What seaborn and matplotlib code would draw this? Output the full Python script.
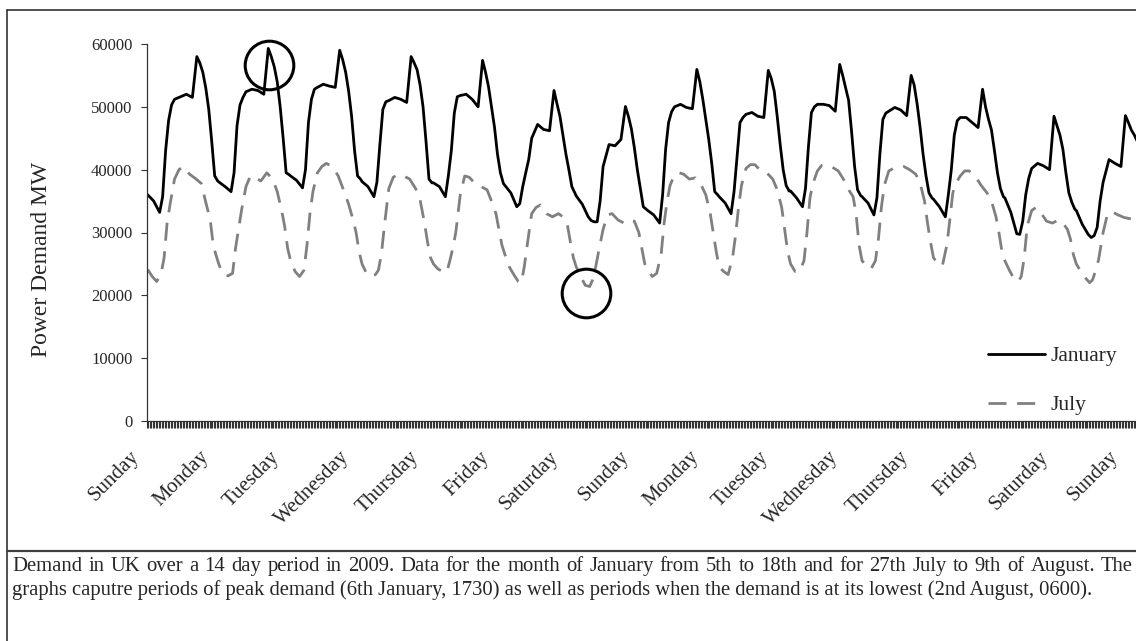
import numpy as np
import pandas as pd
import matplotlib
matplotlib.use("Agg")
import matplotlib.pyplot as plt
import seaborn as sns
from matplotlib.lines import Line2D
from matplotlib import transforms

# ---------------- data ----------------
day_labels = ["Sunday", "Monday", "Tuesday", "Wednesday", "Thursday", "Friday", "Saturday",
              "Sunday", "Monday", "Tuesday", "Wednesday", "Thursday", "Friday", "Saturday", "Sunday"]
slots_per_day = 48          # half-hourly readings
n_slots = 672               # 14 days
label_every = 47            # category label interval on the axis

# January 5th-18th (MW), read at these half-hour slots of each day
jan_slots = [0, 4, 8, 10, 12, 14, 16, 18, 22, 26, 30, 33, 35, 37, 39, 41, 43, 45, 47]
jan_mw = [
    [36000, 35000, 33200, 35700, 43000, 47800, 50300, 51200, 51600, 52000, 51500, 58000, 57000, 55500, 53000, 49600, 44500, 39000, 38200],
    [38000, 37300, 36500, 39500, 47000, 50300, 51500, 52400, 52800, 52600, 52000, 59300, 58000, 56400, 54000, 50000, 45000, 39500, 39200],
    [39000, 38300, 37100, 40000, 47500, 51200, 52800, 53100, 53600, 53300, 53100, 59000, 57500, 55500, 52500, 48500, 43000, 39000, 38500],
    [38100, 37300, 35700, 38000, 44000, 49600, 50800, 51000, 51500, 51200, 50700, 58000, 57000, 55900, 53500, 50000, 44500, 38500, 37900],
    [37900, 37300, 35700, 39000, 43000, 49000, 51600, 51800, 52000, 51200, 50000, 57400, 55500, 53200, 50000, 46800, 42500, 39500, 37800],
    [37500, 36300, 34100, 34600, 37300, 39500, 41600, 45000, 47200, 46400, 46200, 52600, 50500, 48500, 45500, 42500, 40000, 37300, 36300],
    [35800, 34500, 32500, 31900, 31700, 31700, 35000, 40500, 44000, 43800, 44800, 50050, 48500, 46500, 43500, 40000, 37000, 34100, 33700],
    [33500, 32800, 31500, 36000, 43200, 47500, 49200, 50000, 50400, 49900, 49700, 55950, 54000, 51200, 48000, 44800, 41000, 36500, 36000],
    [35700, 34700, 33000, 36500, 42100, 47500, 48300, 48800, 49100, 48500, 48300, 55800, 54500, 52500, 48500, 44000, 40000, 37500, 36600],
    [36600, 35500, 34100, 37000, 43700, 49100, 50000, 50400, 50400, 50200, 49300, 56750, 55000, 53000, 51000, 46000, 40500, 36800, 35900],
    [35700, 34700, 32800, 35500, 42500, 48000, 49000, 49300, 49900, 49500, 48600, 55000, 53500, 50500, 46800, 42500, 39000, 36300, 35500],
    [35300, 34100, 32500, 36000, 40000, 45500, 47800, 48300, 48300, 47500, 46700, 52800, 50000, 48000, 46300, 43000, 39500, 37000, 35700],
    [35500, 33200, 29800, 29700, 31800, 36000, 38600, 40200, 41000, 40600, 40000, 48500, 47000, 45500, 43200, 39500, 36300, 34800, 33700],
    [33500, 31300, 29700, 29200, 29500, 30800, 35000, 38000, 41600, 41000, 40500, 48600, 47500, 46300, 45500, 44500, 42500],
]

# July 27th - August 9th (MW)
jul_slots = [0, 3, 6, 9, 11, 13, 15, 18, 21, 24, 28, 32, 36, 39, 42, 44, 46]
jul_mw = [
    [24100, 23000, 22200, 23500, 26000, 31500, 34500, 38500, 40000, 40500, 39300, 38600, 37800, 34800, 32000, 28000, 26300],
    [24800, 23300, 23100, 23500, 27500, 30500, 33500, 37300, 39000, 38800, 38200, 39500, 38500, 36500, 33500, 31000, 27500],
    [25500, 23800, 23000, 24000, 28000, 33000, 36500, 39500, 40500, 41000, 40500, 39000, 36500, 34500, 32000, 30000, 27000],
    [25000, 23500, 23000, 23300, 24000, 26500, 31000, 37000, 38800, 39200, 39000, 38500, 37000, 35200, 31500, 28500, 26000],
    [25000, 24200, 23800, 23700, 25500, 27500, 30000, 36000, 39000, 38800, 37800, 37300, 36800, 35000, 33000, 30500, 28000],
    [26500, 24500, 23300, 22200, 22000, 24500, 28000, 33000, 34000, 34400, 33000, 32500, 33000, 32500, 31200, 28500, 26000],
    [24500, 23000, 21600, 21400, 22500, 24500, 27000, 30500, 32800, 33000, 32000, 31500, 32000, 31800, 30000, 27500, 25000],
    [24000, 23000, 23500, 26500, 31500, 35000, 37500, 39200, 39500, 39300, 38500, 38700, 37500, 36000, 33000, 30000, 27000],
    [24500, 23800, 23300, 26000, 29500, 34000, 37500, 40200, 40800, 40800, 39800, 39500, 38500, 36800, 34000, 30500, 27000],
    [25000, 23800, 23800, 25500, 30000, 35500, 37800, 39800, 40700, 40700, 40400, 39800, 38300, 36800, 35700, 33000, 28000],
    [25500, 24800, 24200, 25500, 28900, 34000, 37500, 39800, 40200, 40300, 40500, 40000, 39300, 37900, 35000, 31500, 28500],
    [26000, 25000, 24700, 28000, 32000, 36300, 37800, 39000, 39800, 39800, 39000, 37500, 36300, 35000, 32500, 30000, 27000],
    [25500, 24000, 22700, 22200, 23000, 26000, 31000, 33500, 34000, 33200, 31800, 31500, 32000, 31500, 30500, 29000, 26500],
    [25000, 23800, 22800, 22000, 22500, 24000, 25700, 30000, 33000, 33300, 32800, 32400, 32200, 32000, 31800],
]

caption_lines = [
    "Demand in UK over a 14 day period in 2009. Data for the month of January from 5th to 18th and for 27th July to 9th of August. The",
    "graphs caputre periods of peak demand (6th January, 1730) as well as periods when the demand is at its lowest (2nd August, 0600).",
]


def to_frame(slots, rows, name):
    t, v = [], []
    for d, row in enumerate(rows):
        for s, val in zip(slots, row):
            t.append(d * slots_per_day + s)
            v.append(val)
    return pd.DataFrame({"slot": t, "MW": v, "Month": name})


df = pd.concat([to_frame(jan_slots, jan_mw, "January"),
                to_frame(jul_slots, jul_mw, "July")], ignore_index=True)

# ---------------- style ----------------
sns.set_style("ticks")
plt.rcParams["font.family"] = ["Liberation Serif", "DejaVu Serif"]
plt.rcParams["lines.scale_dashes"] = True

W, H = 1136, 641
fig = plt.figure(figsize=(W / 100, H / 100), dpi=100)
ax_left, ax_right, ax_top, ax_bottom = 147, 1147, 44, 421
ax = fig.add_axes([ax_left / W, 1 - ax_bottom / H, (ax_right - ax_left) / W, (ax_bottom - ax_top) / H])

lw = 2.0
jul_dash = (6.5, 3.8)
sns.lineplot(data=df, x="slot", y="MW", hue="Month", style="Month",
             palette={"January": "black", "July": "#808080"},
             dashes={"January": "", "July": jul_dash},
             linewidth=lw, estimator=None, sort=True, legend=False, ax=ax)

ax.set_yticks(np.arange(0, 60001, 10000))
ax.set_yticklabels([str(v) for v in range(0, 60001, 10000)], fontsize=12)
ax.tick_params(axis="y", length=4, width=0.8, color="#333333", pad=6.5)

# day labels at every 47th category
ax.set_xticks(np.arange(0, n_slots, label_every))
ax.set_xticklabels(day_labels, rotation=45, ha="right", rotation_mode="anchor", fontsize=15)
ax.tick_params(axis="x", which="major", length=0, pad=19)
ax.set_xticks(np.arange(n_slots + 1) - 0.5, minor=True)
ax.tick_params(axis="x", which="minor", length=5, width=0.8, color="#333333")
shift = transforms.ScaledTranslation(-18 / 100, 0, fig.dpi_scale_trans)
for lbl in ax.get_xticklabels():
    lbl.set_transform(lbl.get_transform() + shift)

ax.set_xlim(-0.5, n_slots - 0.5)
ax.set_ylim(0, 60000)

ax.set_xlabel("")
ax.set_ylabel("")
for s in ["top", "right"]:
    ax.spines[s].set_visible(False)
for s in ["left", "bottom"]:
    ax.spines[s].set_color("#333333")
    ax.spines[s].set_linewidth(0.9)

# annotation circles around the January peak and the July low
jan_df = df[df.Month == "January"]
jul_df = df[df.Month == "July"]
pk = jan_df.loc[jan_df.MW.idxmax()]
lo = jul_df.loc[jul_df.MW.idxmin()]
ax.plot([pk.slot], [pk.MW], marker="o", ms=35, mfc="none", mec="black", mew=2.2,
        transform=transforms.offset_copy(ax.transData, fig=fig, x=1, y=-17, units="dots"), clip_on=False)
ax.plot([lo.slot], [lo.MW], marker="o", ms=35, mfc="none", mec="black", mew=2.2,
        transform=transforms.offset_copy(ax.transData, fig=fig, x=-4, y=-6, units="dots"), clip_on=False)

# legend
handles = [Line2D([], [], color="black", lw=lw),
           Line2D([], [], color="#808080", lw=lw, dashes=jul_dash)]
fig.legend(handles, ["January", "July"], loc="upper left",
           bbox_to_anchor=(988 / W, 1 - 346 / H), bbox_transform=fig.transFigure,
           frameon=False, fontsize=15.5, handlelength=2.65, handletextpad=0.25,
           labelspacing=1.35, borderpad=0, borderaxespad=0)

# y label
fig.text(42 / W, 1 - 259 / H, "Power Demand MW", rotation=90, ha="center", va="center", fontsize=17)

# frame lines
fig.add_artist(Line2D([7 / W, 1.02], [1 - 10 / H] * 2, transform=fig.transFigure, color="#222222", lw=1.1))
fig.add_artist(Line2D([7 / W] * 2, [1 - 10 / H, -0.02], transform=fig.transFigure, color="#222222", lw=1.1))
fig.add_artist(Line2D([7 / W, 1.02], [1 - 551 / H] * 2, transform=fig.transFigure, color="#404040", lw=1.6))

# caption: first line justified to the box width, second line left aligned
cap_size = 14.9
base1, base2 = 571, 595
renderer = fig.canvas.get_renderer()
words = caption_lines[0].split(" ")
widths = []
for w_ in words:
    t = fig.text(0, 0, w_, fontsize=cap_size)
    widths.append(t.get_window_extent(renderer).width)
    t.remove()
x0, x1 = 12, 1133
gap = (x1 - x0 - sum(widths)) / (len(words) - 1)
xpos = x0
for w_, wd in zip(words, widths):
    fig.text(xpos / W, 1 - base1 / H, w_, fontsize=cap_size, ha="left", va="baseline")
    xpos += wd + gap
fig.text(x0 / W, 1 - base2 / H, caption_lines[1], fontsize=cap_size, ha="left", va="baseline")

fig.savefig("out.png", dpi=100)
